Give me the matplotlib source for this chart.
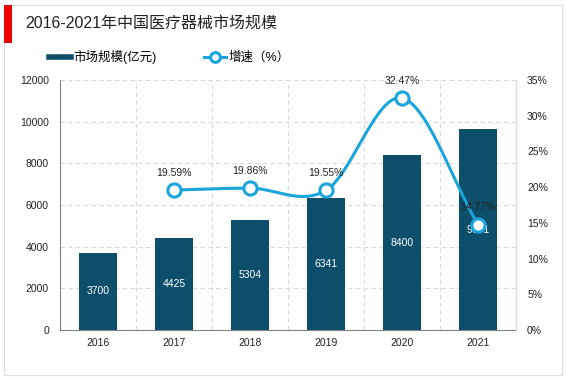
import matplotlib
matplotlib.use("Agg")
import matplotlib.pyplot as plt
import numpy as np
from matplotlib.patches import Rectangle
from matplotlib.lines import Line2D

plt.rcParams['font.family'] = ['Liberation Sans', 'Noto Sans CJK SC', 'DejaVu Sans']

years = ['2016', '2017', '2018', '2019', '2020', '2021']
market = [3700, 4425, 5304, 6341, 8400, 9641]
growth_years = ['2017', '2018', '2019', '2020', '2021']
growth = [19.59, 19.86, 19.55, 32.47, 14.77]

BAR = '#0d4f6b'
LINE = '#1aa5dc'


def catmull_rom(x, y, n=40):
    # smooth curve through points, only for drawing
    x = np.asarray(x, float)
    y = np.asarray(y, float)
    px = np.concatenate([[2 * x[0] - x[1]], x, [2 * x[-1] - x[-2]]])
    py = np.concatenate([[2 * y[0] - y[1]], y, [2 * y[-1] - y[-2]]])
    xs, ys = [], []
    t = np.linspace(0, 1, n)
    for i in range(1, len(px) - 2):
        for p, out in ((px, xs), (py, ys)):
            p0, p1, p2, p3 = p[i - 1], p[i], p[i + 1], p[i + 2]
            out.extend(0.5 * (2 * p1 + (-p0 + p2) * t
                              + (2 * p0 - 5 * p1 + 4 * p2 - p3) * t ** 2
                              + (-p0 + 3 * p1 - 3 * p2 + p3) * t ** 3))
    return np.array(xs), np.array(ys)


fig = plt.figure(figsize=(5.67, 3.78), dpi=100)
W, H = 567, 378

# outer border
fig.add_artist(Rectangle((4 / W, 3 / H), 558 / W, 370 / H, transform=fig.transFigure,
                         fill=False, edgecolor='#dddddd', linewidth=0.8))
# red title marker
fig.add_artist(Rectangle((4 / W, 1 - 43 / H), 8 / W, 38 / H, transform=fig.transFigure,
                         color='#ee0000', linewidth=0))
fig.text(25 / W, 1 - 23 / H, '2016-2021年中国医疗器械市场规模', fontsize=11.5,
         va='center', ha='left', color='#222222')

ax = fig.add_axes([60 / W, 1 - 330 / H, 456 / W, 250 / H])
x = np.arange(len(years))
ax.bar(x, market, width=0.5, color=BAR, zorder=2)
for xi, v in zip(x, market):
    ax.text(xi, v / 2, str(v), color='white', ha='center', va='center', fontsize=7.5, zorder=5)

ax.set_xlim(-0.5, len(years) - 0.5)
ax.set_ylim(0, 12000)
ax.set_yticks(np.arange(0, 12001, 2000))
ax.set_xticks(x)
ax.set_xticklabels(years)
ax.set_xticks(np.arange(-0.5, len(years), 1), minor=True)
ax.grid(axis='y', linestyle=(0, (4, 3)), color='#d9d9d9', linewidth=0.8, zorder=0)
ax.grid(axis='x', which='minor', linestyle=(0, (4, 3)), color='#d9d9d9', linewidth=0.8, zorder=0)
ax.tick_params(axis='both', which='both', length=0, labelsize=7.5, colors='#222222')
ax.tick_params(axis='y', pad=8)
ax.tick_params(axis='x', pad=6)
ax.spines['top'].set_visible(False)
ax.spines['left'].set_color('#808080')
ax.spines['bottom'].set_color('#808080')
ax.spines['right'].set_color('#d9d9d9')

ax2 = ax.twinx()
gx = np.array([years.index(y) for y in growth_years])
sx, sy = catmull_rom(gx, growth)
ax2.plot(sx, sy, color=LINE, linewidth=2.2, zorder=3)
ax2.plot(gx, growth, linestyle='none', marker='o', markersize=9.5, markerfacecolor='white',
         markeredgecolor=LINE, markeredgewidth=2.2, zorder=4)
for xi, v in zip(gx, growth):
    ax2.annotate(f'{v:.2f}%', (xi, v), xytext=(0, 9), textcoords='offset points',
                 ha='center', va='bottom', fontsize=7.5, color='#222222', zorder=6)
ax2.set_ylim(0, 35)
ax2.set_yticks(np.arange(0, 36, 5))
ax2.set_yticklabels([f'{v}%' for v in range(0, 36, 5)])
ax2.tick_params(axis='y', length=0, labelsize=7.5, colors='#222222', pad=8)
for s in ['top', 'left', 'bottom']:
    ax2.spines[s].set_visible(False)
ax2.spines['right'].set_color('#d9d9d9')

handles = [Line2D([0], [0], color=BAR, linewidth=4),
           Line2D([0], [0], color=LINE, linewidth=2.2, marker='o', markersize=7,
                  markerfacecolor='white', markeredgewidth=2.2)]
fig.legend(handles, ['市场规模(亿元)', '增速（%）'], loc='center left',
           bbox_to_anchor=(38 / W, 1 - 57 / H), ncol=2, frameon=False, fontsize=9,
           handlelength=1.7, handletextpad=0.25, columnspacing=3.8)

fig.savefig('out.png', dpi=100)
